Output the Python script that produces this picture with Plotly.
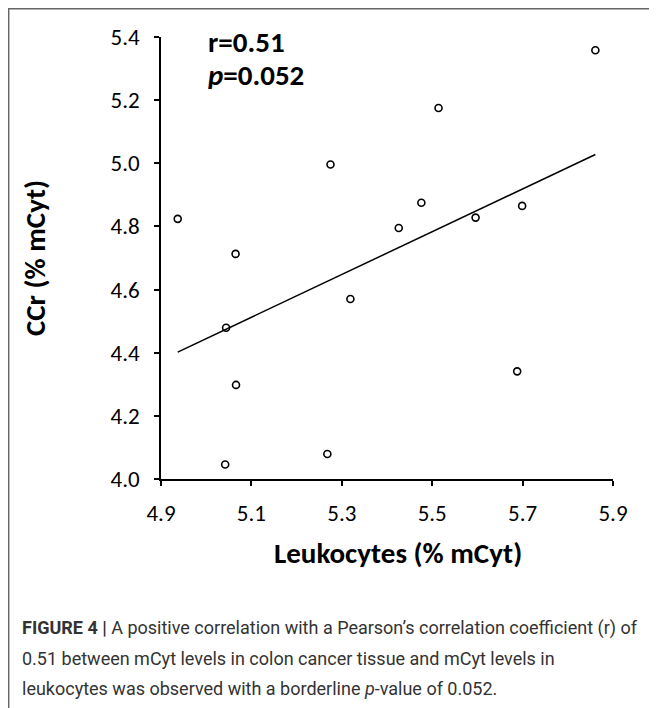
import numpy as np
import plotly.graph_objects as go

# Data
leukocytes = [4.937, 5.065, 5.275, 5.861, 5.514, 5.476, 5.426, 5.596, 5.699,
              5.319, 5.044, 5.066, 5.042, 5.268, 5.688]
ccr = [4.824, 4.713, 4.996, 5.358, 5.175, 4.875, 4.795, 4.828, 4.865,
       4.570, 4.479, 4.298, 4.046, 4.079, 4.341]
x_ticks = [4.9, 5.1, 5.3, 5.5, 5.7, 5.9]
y_ticks = [4.0, 4.2, 4.4, 4.6, 4.8, 5.0, 5.2, 5.4]
stats_text = ["r=0.51", "<i>p</i>=0.052"]
caption_lines = [
    "<b>FIGURE 4 |</b> A positive correlation with a Pearson\u2019s correlation coefficient (r) of",
    "0.51 between mCyt levels in colon cancer tissue and mCyt levels in",
    "leukocytes was observed with a borderline <i>p</i>-value of 0.052.",
]

# Linear trendline (least squares) over the data range
slope, intercept = np.polyfit(leukocytes, ccr, 1)
trend_x = [min(leukocytes), max(leukocytes)]
trend_y = [slope * v + intercept for v in trend_x]

# The page body has an 8px margin, so the figure is sized to fit the window
OFF = 8
W, H = 657 - OFF, 708 - OFF
L, R, T, B = 153, 44, 29, 229
pw, ph = W - L - R, H - T - B

def px(xs):  # screenshot x -> paper
    return (xs - OFF - L) / pw

def py(ys):  # screenshot y -> paper
    return (H - B - (ys - OFF)) / ph

chart_font = "Carlito, Lato, sans-serif"

fig = go.Figure()
fig.add_trace(go.Scatter(
    x=trend_x, y=trend_y, mode="lines",
    line=dict(color="black", width=1.5), hoverinfo="skip", showlegend=False))
fig.add_trace(go.Scatter(
    x=leukocytes, y=ccr, mode="markers",
    marker=dict(symbol="circle-open", size=7, color="black", line=dict(width=1.6)),
    showlegend=False, cliponaxis=False))

axis_common = dict(showgrid=False, zeroline=False, showline=True, linecolor="black",
                   linewidth=1.5, ticks="outside", ticklen=5, tickwidth=1.5,
                   tickcolor="black", tickformat=".1f",
                   tickfont=dict(family=chart_font, size=23, color="black"))

fig.update_xaxes(range=[4.9, 5.9], tickvals=x_ticks, ticklabelstandoff=8, **axis_common)
fig.update_yaxes(range=[4.0, 5.4], tickvals=y_ticks, ticklabelstandoff=10,
                 title=dict(text="<b>CCr (% mCyt)</b>", standoff=56,
                            font=dict(family=chart_font, size=29, color="black")),
                 **axis_common)

annotations = [
    dict(text="<b>%s</b>" % stats_text[0], x=px(206), y=py(42), xref="paper", yref="paper",
         xanchor="left", yanchor="middle", showarrow=False,
         font=dict(family=chart_font, size=29, color="black")),
    dict(text="<b>%s</b>" % stats_text[1], x=px(206), y=py(75), xref="paper", yref="paper",
         xanchor="left", yanchor="middle", showarrow=False,
         font=dict(family=chart_font, size=29, color="black")),
    dict(text="<b>Leukocytes (% mCyt)</b>", x=px(398), y=py(553), xref="paper", yref="paper",
         xanchor="center", yanchor="middle", showarrow=False,
         font=dict(family=chart_font, size=29, color="black")),
]
for i, line in enumerate(caption_lines):
    annotations.append(dict(
        text=line, x=px(20), y=py(628 + i * 30), xref="paper", yref="paper",
        xanchor="left", yanchor="middle", showarrow=False, align="left",
        font=dict(family="Roboto, Liberation Sans, sans-serif", size=18, color="#333333")))

shapes = [
    dict(type="line", xref="paper", yref="paper", x0=px(8), x1=px(657), y0=py(8.7), y1=py(8.7),
         line=dict(color="#666666", width=1.5)),
    dict(type="line", xref="paper", yref="paper", x0=px(8.7), x1=px(8.7), y0=py(8), y1=py(708),
         line=dict(color="#666666", width=1.5)),
]

fig.update_layout(
    width=W, height=H, margin=dict(l=L, r=R, t=T, b=B),
    paper_bgcolor="white", plot_bgcolor="white",
    annotations=annotations, shapes=shapes, showlegend=False,
)

fig.write_html("out.html")
